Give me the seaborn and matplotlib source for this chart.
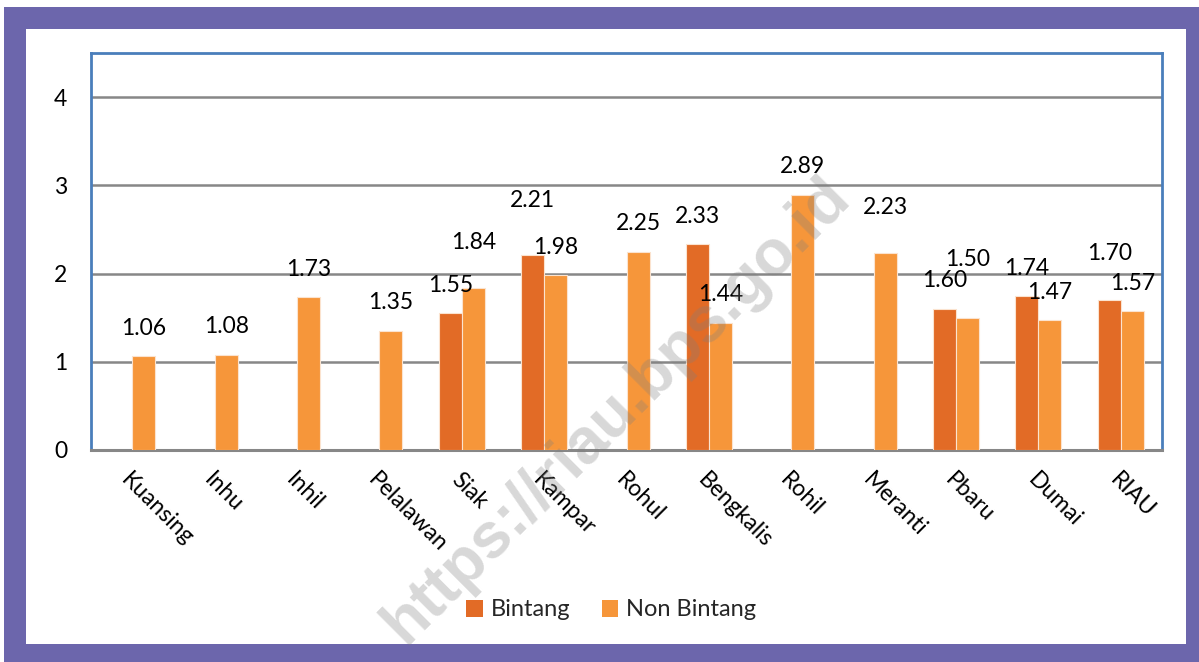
import numpy as np
import pandas as pd
import seaborn as sns
import matplotlib.pyplot as plt
from matplotlib.patches import Rectangle

categories = ["Kuansing", "Inhu", "Inhil", "Pelalawan", "Siak", "Kampar", "Rohul",
              "Bengkalis", "Rohil", "Meranti", "Pbaru", "Dumai", "RIAU"]
bintang = [np.nan, np.nan, np.nan, np.nan, 1.55, 2.21, np.nan, 2.33, np.nan, np.nan, 1.60, 1.74, 1.70]
non_bintang = [1.06, 1.08, 1.73, 1.35, 1.84, 1.98, 2.25, 1.44, 2.89, 2.23, 1.50, 1.47, 1.57]
series = ["Bintang", "Non Bintang"]
colors = ["#E26B26", "#F6963A"]

# a few labels sit higher than the rest in the original
label_lift = {("Siak", "Non Bintang"): 0.19, ("Kampar", "Bintang"): 0.30,
              ("Meranti", "Non Bintang"): 0.20, ("Pbaru", "Non Bintang"): 0.34,
              ("RIAU", "Bintang"): 0.21}

df = pd.DataFrame({"Kabupaten": categories * 2,
                   "Jenis": ["Bintang"] * len(categories) + ["Non Bintang"] * len(categories),
                   "Nilai": bintang + non_bintang})
df = df.dropna()

sns.set_theme(style="white")
plt.rcParams["font.family"] = ["Lato", "DejaVu Sans"]

fig = plt.figure(figsize=(11.99, 6.62), dpi=100)
fig.patches.append(Rectangle((4 / 1199, 0), 1 - 4 / 1199, 1 - 7 / 662, transform=fig.transFigure,
                             facecolor="#6C66AC", edgecolor="none", zorder=-10))
fig.patches.append(Rectangle((26 / 1199, 1 - 644 / 662), (1186 - 26) / 1199, (644 - 29) / 662,
                             transform=fig.transFigure, facecolor="white", edgecolor="none", zorder=-9))

ax = fig.add_axes([91 / 1199, 1 - 450 / 662, (1162 - 91) / 1199, (450 - 53) / 662])
ax.set_facecolor("white")

sns.barplot(data=df, x="Kabupaten", y="Nilai", hue="Jenis", order=categories, hue_order=series,
            palette=colors, width=0.56, saturation=1, edgecolor="#FBE3CF", linewidth=0.8,
            ax=ax, zorder=3)

for cont, name in zip(ax.containers, series):
    for bar in cont:
        h = bar.get_height()
        if np.isnan(h) or h == 0:
            continue
        cat = categories[int(round(bar.get_x() + bar.get_width() / 2 + (0.14 if name == "Bintang" else -0.14)))]
        y = h + 0.32 + label_lift.get((cat, name), 0)
        ax.text(bar.get_x() + bar.get_width() / 2, y, f"{h:.2f}", ha="center", va="center",
                fontsize=16.5, color="black", zorder=5)

ax.set_ylim(0, 4.5)
ax.set_xlim(-0.5, len(categories) - 0.5)
ax.set_yticks([0, 1, 2, 3, 4])
ax.yaxis.grid(True, color="#878787", linewidth=1.8, zorder=1)
ax.set_axisbelow(True)
ax.set_xlabel("")
ax.set_ylabel("")
ax.tick_params(axis="y", length=0, pad=17, labelsize=16.5, labelcolor="black")
ax.tick_params(axis="x", length=0, pad=14, labelsize=16.5, labelcolor="black")
plt.setp(ax.get_xticklabels(), rotation=-45, ha="left", va="top", rotation_mode="anchor")

for side in ["left", "top", "right"]:
    ax.spines[side].set_color("#4A7EBB")
    ax.spines[side].set_linewidth(2)
ax.spines["bottom"].set_color("#878787")
ax.spines["bottom"].set_linewidth(2.2)

ax.legend_.remove()
handles = [Rectangle((0, 0), 1, 1, facecolor=c, edgecolor="none") for c in colors]
fig.legend(handles, series, loc="center", bbox_to_anchor=(0.51, 1 - 610 / 662), ncol=2,
           frameon=False, fontsize=17, handlelength=0.7, handleheight=0.7,
           handletextpad=0.35, columnspacing=1.3)

fig.text(617 / 1199, 1 - 410 / 662, "https://riau.bps.go.id", rotation=45, ha="center", va="center",
         fontsize=46, fontweight="bold", family=["Liberation Sans", "DejaVu Sans"],
         color="#7F7F7F", alpha=0.3, zorder=20)

fig.savefig("out.png", dpi=100, facecolor="white")
